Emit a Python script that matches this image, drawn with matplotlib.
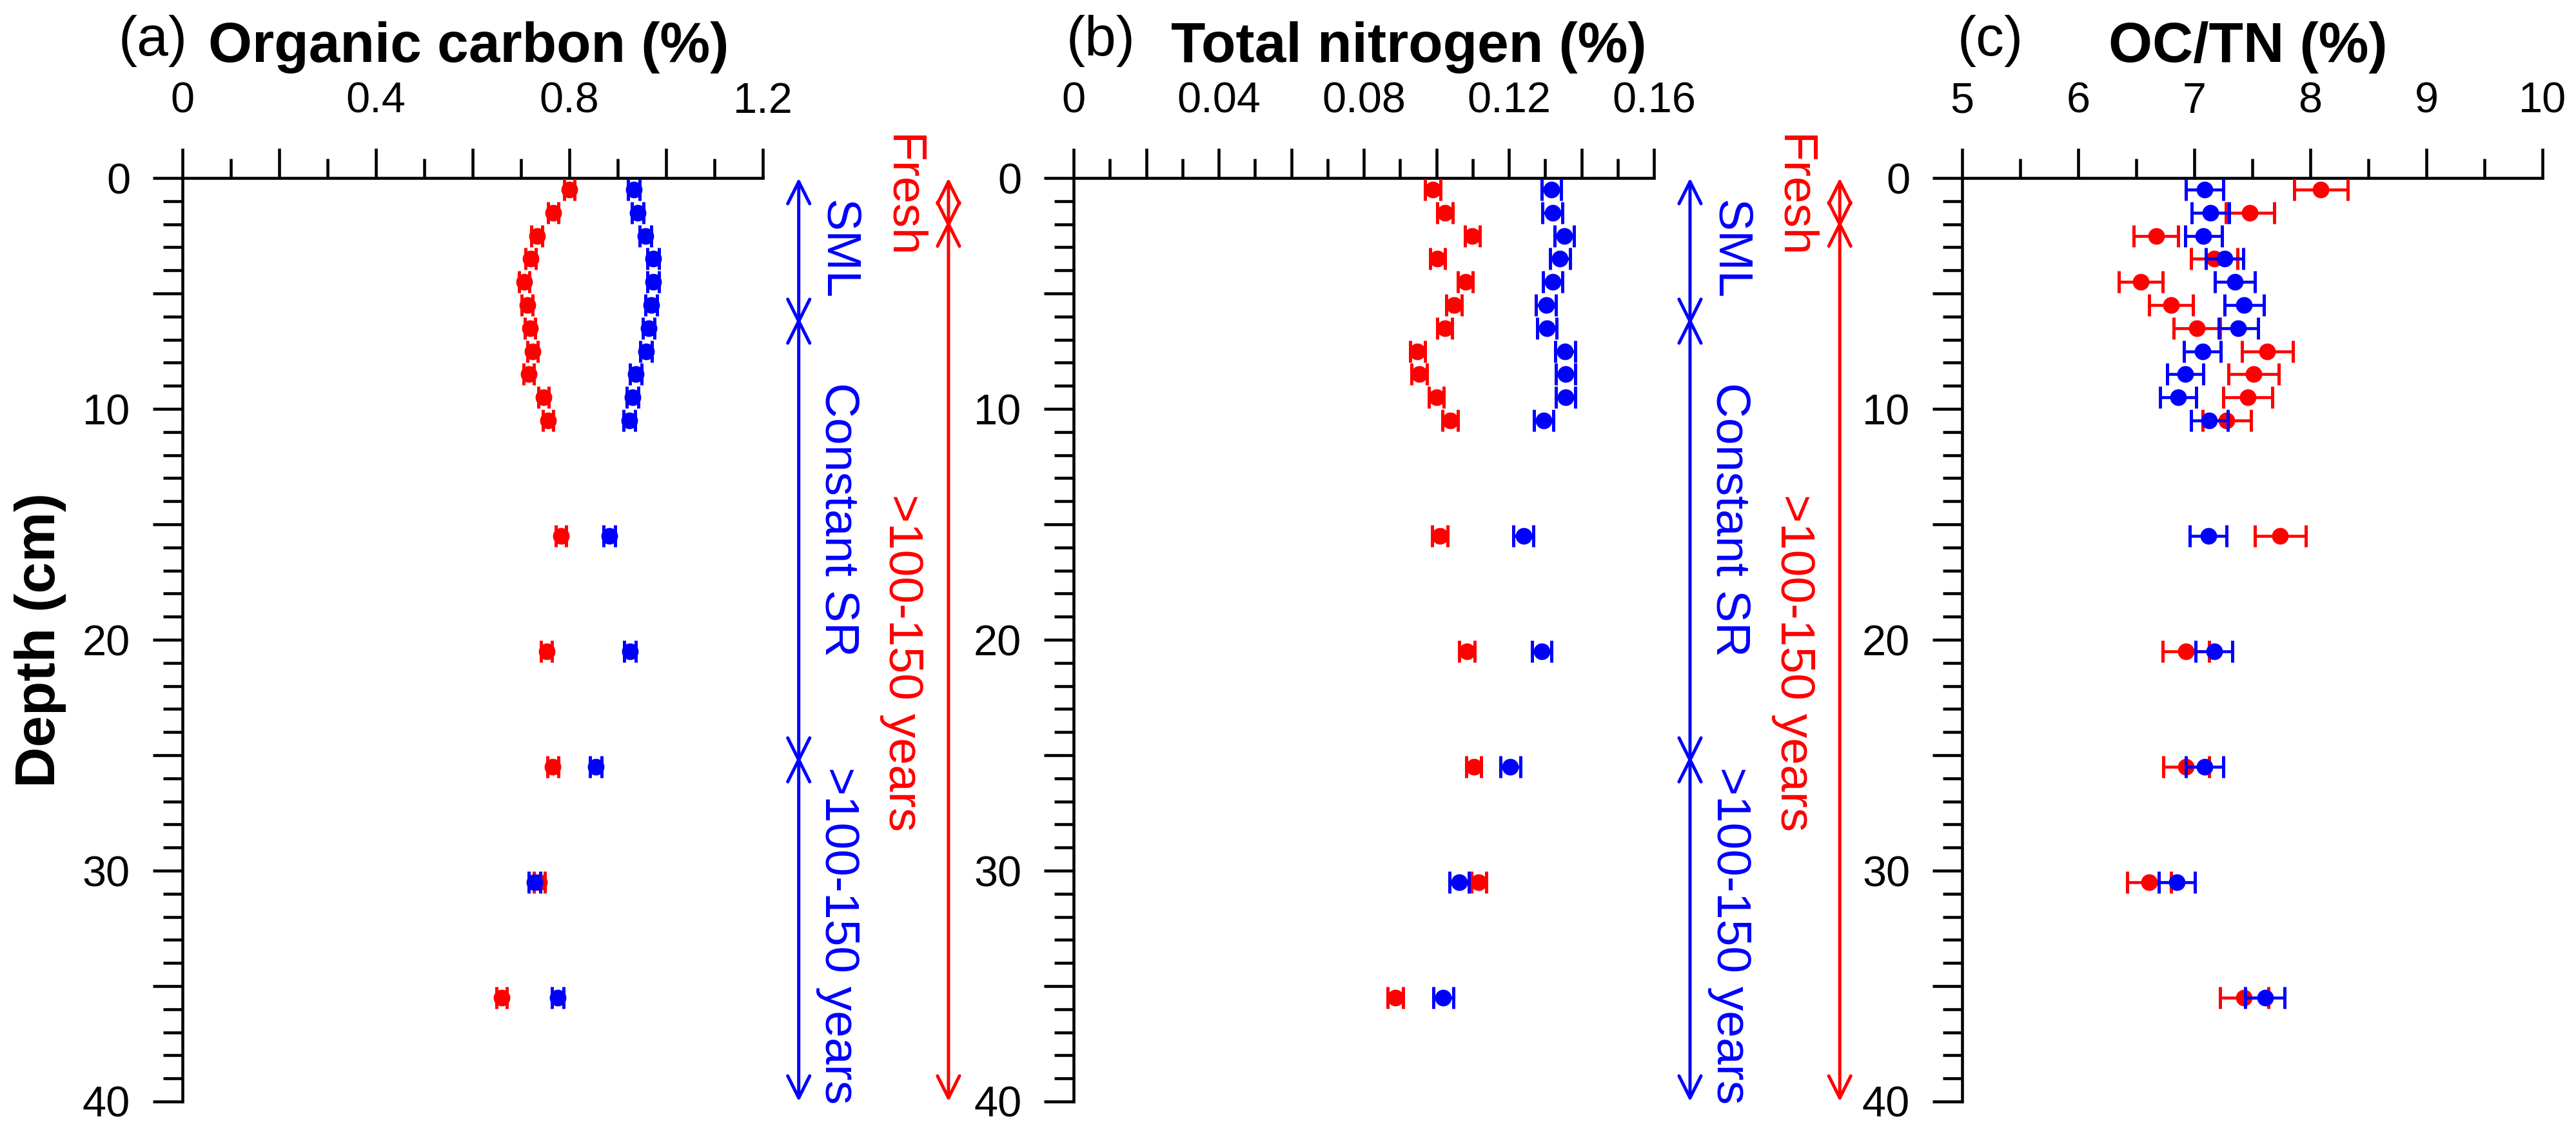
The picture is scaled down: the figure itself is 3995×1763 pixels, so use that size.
import matplotlib
matplotlib.use('Agg')
import matplotlib.pyplot as plt
import matplotlib.transforms as mtransforms
from matplotlib.ticker import MultipleLocator, FuncFormatter

plt.rcParams['font.family'] = ['Liberation Sans', 'DejaVu Sans']

# Sample depths (cm)
depth = [0.5, 1.5, 2.5, 3.5, 4.5, 5.5, 6.5, 7.5, 8.5, 9.5, 10.5,
         15.5, 20.5, 25.5, 30.5, 35.5]

# Organic carbon (%)
oc_red = [0.800, 0.767, 0.733, 0.720, 0.707, 0.713, 0.719, 0.724, 0.716, 0.747, 0.756,
          0.783, 0.753, 0.766, 0.738, 0.660]
oc_red_err = [0.011, 0.011, 0.011, 0.011, 0.011, 0.011, 0.011, 0.011, 0.011, 0.011, 0.011,
              0.011, 0.011, 0.011, 0.011, 0.011]
oc_blue = [0.934, 0.941, 0.958, 0.974, 0.973, 0.969, 0.964, 0.959, 0.938, 0.931, 0.924,
           0.883, 0.925, 0.855, 0.728, 0.776]
oc_blue_err = [0.012, 0.012, 0.012, 0.012, 0.012, 0.012, 0.012, 0.012, 0.012, 0.012, 0.012,
               0.012, 0.012, 0.012, 0.012, 0.012]

# Total nitrogen (%)
tn_red = [0.0990, 0.1024, 0.1099, 0.1003, 0.1080, 0.1049, 0.1023, 0.0948, 0.0953, 0.1000, 0.1038,
          0.1010, 0.1084, 0.1103, 0.1117, 0.0887]
tn_red_err = [0.0021, 0.0021, 0.0021, 0.0021, 0.0021, 0.0021, 0.0021, 0.0021, 0.0021, 0.0021, 0.0021,
              0.0021, 0.0021, 0.0021, 0.0021, 0.0021]
tn_blue = [0.1317, 0.1320, 0.1353, 0.1341, 0.1321, 0.1302, 0.1305, 0.1355, 0.1356, 0.1356, 0.1296,
           0.1240, 0.1290, 0.1204, 0.1063, 0.1019]
tn_blue_err = [0.0027, 0.0027, 0.0027, 0.0027, 0.0027, 0.0027, 0.0027, 0.0027, 0.0027, 0.0027, 0.0027,
               0.0027, 0.0027, 0.0027, 0.0027, 0.0027]

# OC/TN
cn_red = [8.09, 7.48, 6.67, 7.17, 6.54, 6.80, 7.02, 7.63, 7.51, 7.46, 7.28,
          7.74, 6.93, 6.93, 6.61, 7.43]
cn_red_err = [0.23, 0.21, 0.19, 0.20, 0.19, 0.19, 0.20, 0.22, 0.215, 0.21, 0.21,
              0.22, 0.20, 0.195, 0.19, 0.21]
cn_blue = [7.09, 7.14, 7.08, 7.26, 7.35, 7.43, 7.38, 7.07, 6.92, 6.86, 7.13,
           7.12, 7.17, 7.09, 6.85, 7.61]
cn_blue_err = [0.16, 0.16, 0.16, 0.16, 0.17, 0.17, 0.17, 0.16, 0.155, 0.155, 0.16,
               0.16, 0.16, 0.16, 0.155, 0.17]

# Zone annotations (depth bounds and label positions)
blue_zones = [0, 6.2, 25.2, 40]
blue_labels = ['SML', 'Constant SR', '>100-150 years']
blue_label_depth = [3.1, 14.8, 32.8]
red_zones = [0, 2, 40]
red_labels = ['Fresh', '>100-150 years']
red_label_depth = [0.8, 21.0]

panel_letters = ['(a)', '(b)', '(c)']
panel_titles = ['Organic carbon (%)', 'Total nitrogen (%)', 'OC/TN (%)']

RED = '#ff0000'
BLUE = '#0000ff'

fig = plt.figure(figsize=(3995 / 300, 1763 / 300), dpi=300)
lefts = [0.0708, 0.4168, 0.7617]
axes = [fig.add_axes([l, 0.0312, 0.2253, 0.8122]) for l in lefts]


def label_every(step):
    def fmt(v, pos):
        k = v / step
        if abs(k - round(k)) < 1e-6:
            return f'{v:g}'
        return ''
    return FuncFormatter(fmt)


def setup_axis(ax, xlim, major, minor, label_step):
    ax.set_xlim(xlim)
    ax.set_ylim(40, 0)
    ax.spines['right'].set_visible(False)
    ax.spines['bottom'].set_visible(False)
    ax.spines['top'].set_linewidth(1.1)
    ax.spines['left'].set_linewidth(1.1)
    ax.xaxis.tick_top()
    ax.xaxis.set_major_locator(MultipleLocator(major))
    ax.xaxis.set_minor_locator(MultipleLocator(minor))
    ax.xaxis.set_major_formatter(label_every(label_step))
    ax.yaxis.set_major_locator(MultipleLocator(5))
    ax.yaxis.set_minor_locator(MultipleLocator(1))
    ax.yaxis.set_major_formatter(label_every(10))
    ax.tick_params(which='major', direction='out', length=11, width=1.1, labelsize=16)
    ax.tick_params(which='minor', direction='out', length=7.3, width=1.1)
    ax.tick_params(axis='x', which='major', pad=10)
    ax.tick_params(axis='y', which='major', pad=8.4)


def plot_pair(ax, red, red_err, blue, blue_err):
    ax.errorbar(red, depth, xerr=red_err, fmt='o', color=RED, ms=5.2,
                elinewidth=1.1, capsize=4, capthick=1.2, clip_on=False, zorder=3)
    ax.errorbar(blue, depth, xerr=blue_err, fmt='o', color=BLUE, ms=5.2,
                elinewidth=1.1, capsize=4, capthick=1.2, clip_on=False, zorder=4)


def draw_zones(ax, x_arrow, x_text, zones, labels, label_depth, color):
    trans = mtransforms.blended_transform_factory(ax.transAxes, ax.transData)
    ext = 0.16  # let the heads of neighbouring arrows cross into an X
    for i, (y0, y1) in enumerate(zip(zones[:-1], zones[1:])):
        if i > 0:
            y0 -= ext
        if i < len(zones) - 2:
            y1 += ext
        ax.annotate('', xy=(x_arrow, y1), xytext=(x_arrow, y0),
                    xycoords=trans, textcoords=trans, annotation_clip=False,
                    arrowprops=dict(arrowstyle='<->,head_length=0.82,head_width=0.41',
                                    color=color, lw=1.2, shrinkA=0, shrinkB=0,
                                    mutation_scale=10))
    for lab, d in zip(labels, label_depth):
        ax.text(x_text, d, lab, transform=trans, rotation=-90, color=color,
                fontsize=18, ha='center', va='center', clip_on=False)


setup_axis(axes[0], (0, 1.2), 0.2, 0.1, 0.4)
setup_axis(axes[1], (0, 0.16), 0.02, 0.01, 0.04)
setup_axis(axes[2], (5, 10), 1, 0.5, 1)

plot_pair(axes[0], oc_red, oc_red_err, oc_blue, oc_blue_err)
plot_pair(axes[1], tn_red, tn_red_err, tn_blue, tn_blue_err)
plot_pair(axes[2], cn_red, cn_red_err, cn_blue, cn_blue_err)

for ax in axes[:2]:
    draw_zones(ax, 1.062, 1.13, blue_zones, blue_labels, blue_label_depth, BLUE)
    draw_zones(ax, 1.320, 1.24, red_zones, red_labels, red_label_depth, RED)

letter_x = [-0.051, 0.047, 0.049]
title_x = [0.493, 0.577, 0.492]
for ax, letter, title, lx, tx in zip(axes, panel_letters, panel_titles, letter_x, title_x):
    ax.text(lx, 1.133, letter, transform=ax.transAxes, fontsize=21,
            ha='center', va='baseline')
    ax.text(tx, 1.126, title, transform=ax.transAxes, fontsize=21,
            fontweight='bold', ha='center', va='baseline')

axes[0].set_ylabel('Depth (cm)', fontsize=21, fontweight='bold')
axes[0].yaxis.set_label_coords(-0.20, 0.5)

fig.savefig('out.png', dpi=300)
